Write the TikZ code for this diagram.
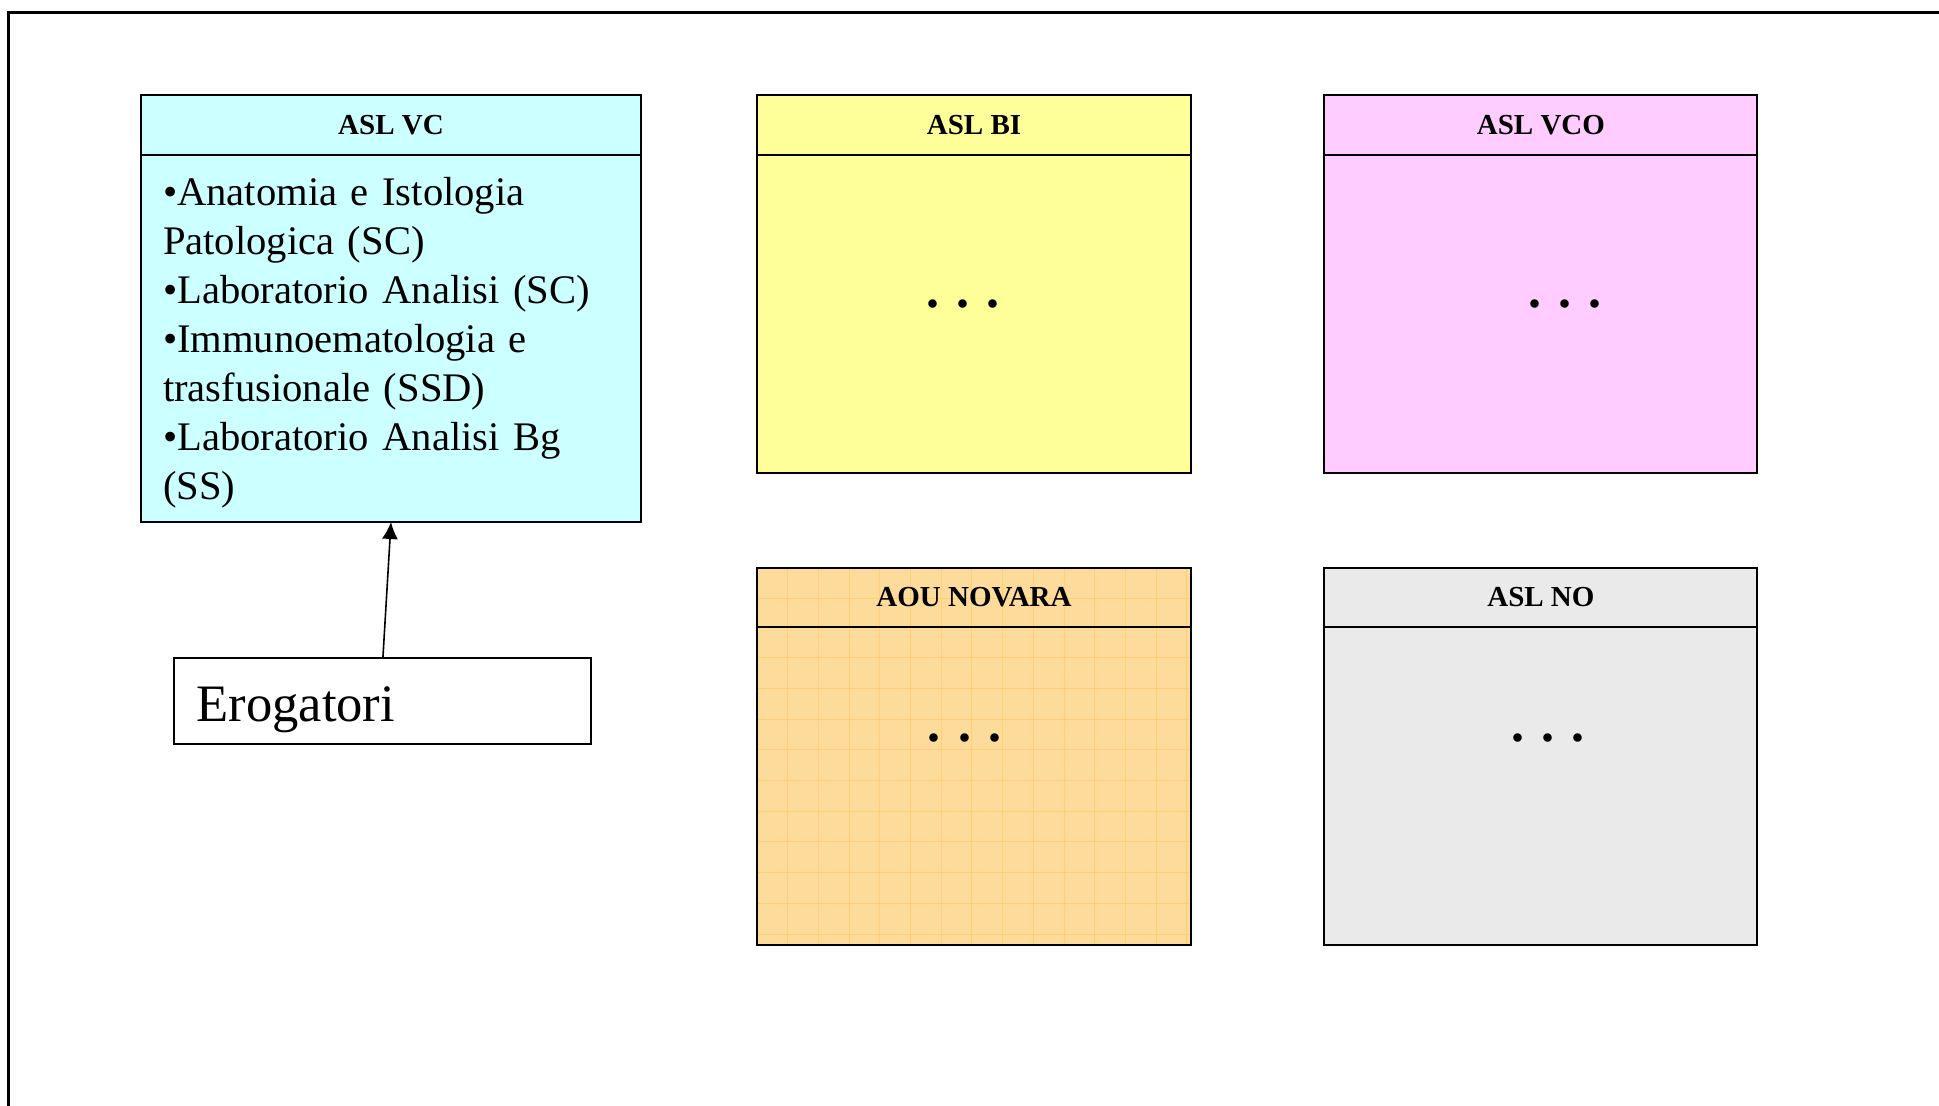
\documentclass[tikz,border=0pt]{standalone}
\usepackage{fontspec}
\setmainfont{Liberation Serif}
\usetikzlibrary{positioning,arrows.meta}

\definecolor{vccyan}{HTML}{CCFFFF}
\definecolor{biyellow}{HTML}{FFFF99}
\definecolor{vcopink}{HTML}{FFCCFF}
\definecolor{aouorange}{HTML}{FCDB9B}
\definecolor{aouline}{HTML}{FFCF70}
\definecolor{nogrey}{HTML}{EAEAEA}

\tikzset{
  boxhead/.style={draw, line width=1pt, outer sep=0pt, anchor=north west,
    minimum height=29.7pt, font=\bfseries\fontsize{14.5}{17}\selectfont},
  boxbody/.style={draw, line width=1pt, outer sep=0pt, minimum height=159pt},
  dots/.style={font=\bfseries\fontsize{26}{30}\selectfont},
  aougrid/.style={fill=aouorange, path picture={
    \foreach \k in {1,...,14}
      \draw[aouline, line width=0.5pt]
        ([xshift=\k*15.35pt]path picture bounding box.north west) --
        ([xshift=\k*15.35pt]path picture bounding box.south west);
    \foreach \k in {1,...,10}
      \draw[aouline, line width=0.5pt]
        ([yshift=-\k*15.35pt]path picture bounding box.north west) --
        ([yshift=-\k*15.35pt]path picture bounding box.north east);
  }}
}

\begin{document}
\begin{tikzpicture}[x=0.5pt, y=-0.5pt]
  \useasboundingbox (0,0) rectangle (1939,1106);
  % frame
  \draw[line width=1.5pt] (8.7,1106) |- (1939,12.4);

  % ASL VC
  \node[boxhead, fill=vccyan, minimum width=250pt] (vchead) at (141,95.2) {ASL VC};
  \node[boxbody, fill=vccyan, below=0pt of vchead, minimum height=183.7pt,
        text width=228pt, inner xsep=11pt, align=left,
        font=\fontsize{20.3}{24.5}\selectfont] (vcbody)
    {\rule{0pt}{19pt}•Anatomia e Istologia\\ Patologica (SC)\\ •Laboratorio Analisi (SC)\\
     •Immunoematologia e\\ trasfusionale (SSD)\\ •Laboratorio Analisi Bg\\ (SS)};

  % other ASL
  \node[boxhead, fill=biyellow, minimum width=217pt] (bihead) at (757,95.2) {ASL BI};
  \node[boxbody, fill=biyellow, below=0pt of bihead, minimum width=217pt] (bibody) {};
  \node[boxhead, fill=vcopink, minimum width=216.5pt] (vcohead) at (1324.4,95.2) {ASL VCO};
  \node[boxbody, fill=vcopink, below=0pt of vcohead, minimum width=216.5pt] (vcobody) {};
  \node[boxhead, aougrid, minimum width=217pt] (aouhead) at (757,567.6) {AOU NOVARA};
  \node[boxbody, aougrid, below=0pt of aouhead, minimum width=217pt] (aoubody) {};
  \node[boxhead, fill=nogrey, minimum width=216.5pt] (nohead) at (1324.4,567.6) {ASL NO};
  \node[boxbody, fill=nogrey, below=0pt of nohead, minimum width=216.5pt] (nobody) {};

  \node[dots] (bidots) at (963,304) {. . .};
  \node[dots] (vcodots) at (1565,304) {. . .};
  \node[dots] (aoudots) at (964.6,738) {. . .};
  \node[dots] (nodots) at (1548,738) {. . .};

  % erogatori
  \node[draw, line width=1pt, outer sep=0pt, anchor=north west,
        minimum width=208.5pt, minimum height=43.25pt,
        text width=186.5pt, inner xsep=11pt, inner ysep=0pt, align=left,
        text height=26pt, text depth=5.3pt,
        font=\fontsize{26.3}{30}\selectfont] (ero) at (174.4,657.9) {Erogatori};
  \draw[line width=0.8pt, -{Latex[length=8.5pt, width=8pt]}] (ero.north) -- (vcbody.south);
\end{tikzpicture}
\end{document}
